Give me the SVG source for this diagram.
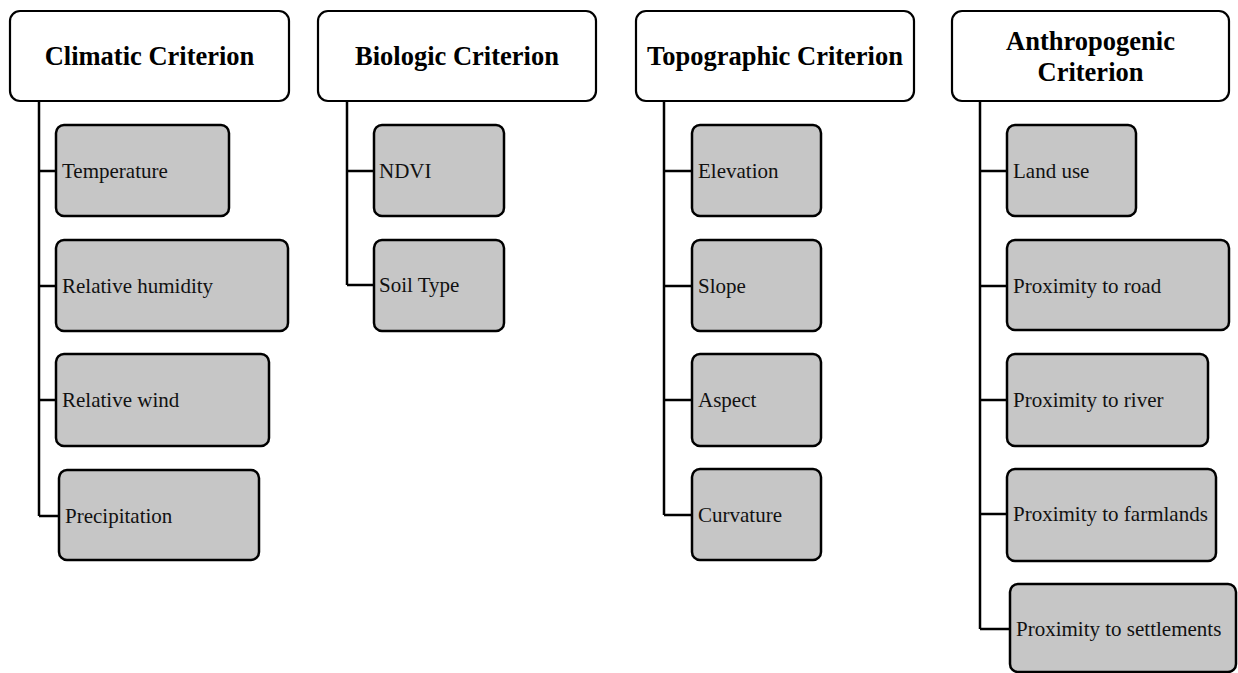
<svg xmlns="http://www.w3.org/2000/svg" width="1238" height="673" viewBox="0 0 1238 673">
<style>
.hdr{fill:#ffffff;stroke:#000;stroke-width:2.2}
.leaf{fill:#c6c6c6;stroke:#000;stroke-width:2.5}
.ht{font-family:"Liberation Serif","Times New Roman",serif;font-weight:bold;font-size:26.5px;fill:#000;text-anchor:middle}
.lt{font-family:"Liberation Serif","Times New Roman",serif;font-size:21px;fill:#111}
.cn{fill:none;stroke:#000;stroke-width:2.5}
</style>
<rect width="1238" height="673" fill="#ffffff"/>
<g id="connectors">
<path class="cn" d="M39,101 V516 M39,171 H56 M39,286 H56 M39,400 H56 M39,516 H59"/>
<path class="cn" d="M347,101 V285 M347,171 H374 M347,285 H374"/>
<path class="cn" d="M664,101 V515 M664,171 H692 M664,286 H692 M664,400 H692 M664,515 H692"/>
<path class="cn" d="M980,101 V629 M980,171 H1007 M980,286 H1007 M980,400 H1007 M980,514 H1007 M980,629 H1010"/>
</g>
<g id="climatic">
<rect class="hdr" x="10" y="11" width="279" height="90" rx="10"/>
<text class="ht" x="149.5" y="65">Climatic Criterion</text>
</g>
<g id="temperature"><rect class="leaf" x="56" y="125" width="173" height="91" rx="8"/><text class="lt" x="62" y="178">Temperature</text></g>
<g id="humidity"><rect class="leaf" x="56" y="240" width="232" height="91" rx="8"/><text class="lt" x="62" y="293">Relative humidity</text></g>
<g id="wind"><rect class="leaf" x="56" y="354" width="213" height="92" rx="8"/><text class="lt" x="62" y="407">Relative wind</text></g>
<g id="precipitation"><rect class="leaf" x="59" y="470" width="200" height="90" rx="8"/><text class="lt" x="65" y="523">Precipitation</text></g>
<g id="biologic">
<rect class="hdr" x="318" y="11" width="278" height="90" rx="10"/>
<text class="ht" x="457" y="65">Biologic Criterion</text>
</g>
<g id="ndvi"><rect class="leaf" x="374" y="125" width="130" height="91" rx="8"/><text class="lt" x="379" y="178">NDVI</text></g>
<g id="soil"><rect class="leaf" x="374" y="240" width="130" height="91" rx="8"/><text class="lt" x="379" y="292">Soil Type</text></g>
<g id="topographic">
<rect class="hdr" x="636" y="11" width="278" height="90" rx="10"/>
<text class="ht" x="775" y="65">Topographic Criterion</text>
</g>
<g id="elevation"><rect class="leaf" x="692" y="125" width="129" height="91" rx="8"/><text class="lt" x="698" y="178">Elevation</text></g>
<g id="slope"><rect class="leaf" x="692" y="240" width="129" height="91" rx="8"/><text class="lt" x="698" y="293">Slope</text></g>
<g id="aspect"><rect class="leaf" x="692" y="354" width="129" height="92" rx="8"/><text class="lt" x="698" y="407">Aspect</text></g>
<g id="curvature"><rect class="leaf" x="692" y="469" width="129" height="91" rx="8"/><text class="lt" x="698" y="522">Curvature</text></g>
<g id="anthropogenic">
<rect class="hdr" x="952" y="11" width="277" height="90" rx="10"/>
<text class="ht"><tspan x="1090.5" y="50">Anthropogenic</tspan><tspan x="1090.5" y="81">Criterion</tspan></text>
</g>
<g id="landuse"><rect class="leaf" x="1007" y="125" width="129" height="91" rx="8"/><text class="lt" x="1013" y="178">Land use</text></g>
<g id="road"><rect class="leaf" x="1007" y="240" width="222" height="90" rx="8"/><text class="lt" x="1013" y="293">Proximity to road</text></g>
<g id="river"><rect class="leaf" x="1007" y="354" width="201" height="92" rx="8"/><text class="lt" x="1013" y="407">Proximity to river</text></g>
<g id="farmlands"><rect class="leaf" x="1007" y="469" width="209" height="92" rx="8"/><text class="lt" x="1013" y="521">Proximity to farmlands</text></g>
<g id="settlements"><rect class="leaf" x="1010" y="584" width="226" height="88" rx="8"/><text class="lt" x="1016" y="636">Proximity to settlements</text></g>
</svg>
